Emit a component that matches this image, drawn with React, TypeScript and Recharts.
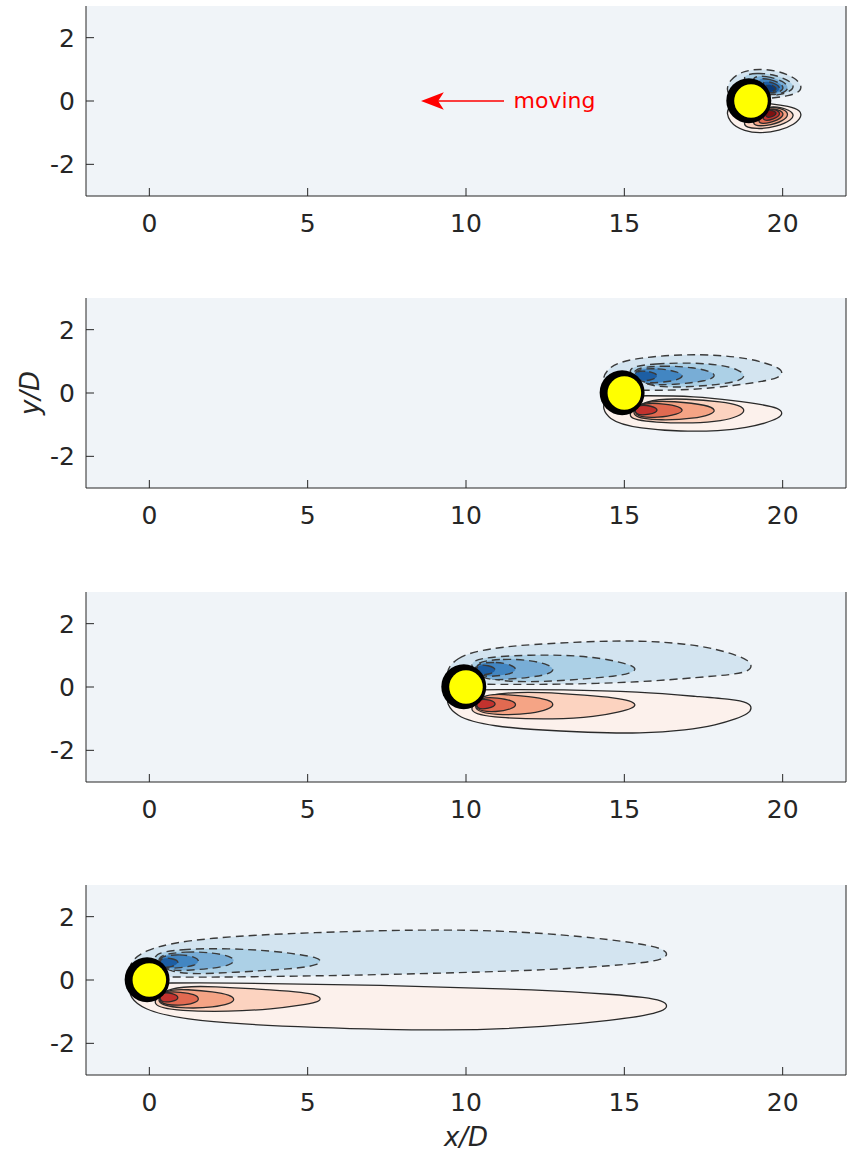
import React from 'react';
import { ComposedChart, XAxis, YAxis, Scatter, CartesianGrid } from 'recharts';

const W = 849;
const MT = 6;
const PLOT_H = 190;
const CHART_H = 272;
const PLOT_W = 760;
const PX_PER_D = PLOT_W / 24;
const FONT = '"DejaVu Sans", sans-serif';
const INK = '#262626';

// top edge of each plot box, in page pixels
const plotTops = [6, 298, 592, 885];
// cylinder centre x/D for each snapshot
const cylinderX = [19, 15, 10, 0];
const xTicks = [0, 5, 10, 15, 20];
const yTicks = [-2, 0, 2];

// contour fills, outermost level first
const blueFill = ['#d3e4f0', '#acd0e6', '#78add6', '#4286c2', '#1d5ea3', '#0c3b78'];
const redFill = ['#fcf1ec', '#fcd3c0', '#f5a485', '#e16a51', '#c2322e', '#7d1212'];

// upper (negative) wake lobe outlines, [dx from cylinder, y]; lower lobe is its mirror
const wake1 = [
  [[-0.85, 0.1], [-0.7, 0.7], [-0.2, 0.96], [0.3, 1.02], [0.9, 0.94], [1.38, 0.74], [1.6, 0.5], [1.57, 0.3], [1.2, 0.16], [0.6, 0.08], [0.2, 0.06]],
  [[-0.45, 0.78], [0.2, 0.9], [0.8, 0.82], [1.3, 0.6], [1.38, 0.38], [1.0, 0.2], [0.4, 0.14]],
  [[-0.1, 0.78], [0.5, 0.8], [1.04, 0.63], [1.22, 0.4], [0.98, 0.22], [0.4, 0.16]],
  [[0.1, 0.74], [0.62, 0.7], [1.05, 0.5], [1.0, 0.29], [0.5, 0.2]],
  [[0.3, 0.66], [0.74, 0.58], [0.96, 0.41], [0.8, 0.26], [0.45, 0.23]],
  [[0.45, 0.56], [0.74, 0.48], [0.83, 0.36], [0.64, 0.28], [0.45, 0.28]],
];
const wake2 = [
  [[-0.85, 0.1], [-0.55, 0.9], [0.5, 1.12], [1.8, 1.22], [3, 1.2], [3.9, 1.09], [4.45, 0.95], [4.87, 0.8], [5.02, 0.64], [4.87, 0.48], [4.4, 0.37], [3.5, 0.24], [2.2, 0.1], [0.8, 0.08]],
  [[-0.1, 0.82], [1, 0.93], [2.2, 0.96], [3.1, 0.88], [3.6, 0.74], [3.84, 0.56], [3.66, 0.39], [3.1, 0.28], [2, 0.18], [0.6, 0.18]],
  [[0.1, 0.78], [1.2, 0.87], [2.2, 0.81], [2.76, 0.67], [2.9, 0.54], [2.64, 0.38], [1.6, 0.26], [0.5, 0.24]],
  [[0.2, 0.75], [1.1, 0.79], [1.7, 0.67], [1.9, 0.54], [1.64, 0.39], [1.1, 0.33], [0.5, 0.3]],
  [[0.3, 0.71], [0.82, 0.69], [1.12, 0.55], [0.88, 0.4], [0.35, 0.36]],
];
const wake3 = [
  [[-0.85, 0.1], [-0.4, 1.0], [1.0, 1.25], [2, 1.34], [3.9, 1.44], [5.5, 1.47], [7, 1.36], [7.9, 1.2], [8.55, 1.0], [8.92, 0.84], [9.04, 0.66], [8.92, 0.49], [8.4, 0.39], [7.4, 0.31], [5.5, 0.15], [3, 0.08], [1, 0.08]],
  [[-0.1, 0.82], [1, 0.98], [2.8, 1.03], [4.1, 0.94], [4.85, 0.79], [5.26, 0.67], [5.38, 0.56], [5.2, 0.43], [4.7, 0.34], [3.8, 0.26], [2.5, 0.16], [0.6, 0.16]],
  [[0.1, 0.78], [1.2, 0.9], [2.1, 0.84], [2.62, 0.7], [2.8, 0.55], [2.62, 0.4], [2.0, 0.3], [1.2, 0.23], [0.5, 0.22]],
  [[0.2, 0.75], [1, 0.8], [1.45, 0.69], [1.62, 0.56], [1.45, 0.42], [1.0, 0.35], [0.45, 0.3]],
  [[0.3, 0.71], [0.72, 0.69], [1.0, 0.55], [0.78, 0.4], [0.35, 0.36]],
];
const wake4 = [
  [[-0.85, 0.1], [-0.4, 1.0], [1.9, 1.35], [5, 1.5], [9.5, 1.62], [12.6, 1.48], [14.7, 1.26], [15.65, 1.12], [16.2, 0.99], [16.4, 0.82], [16.2, 0.65], [15.65, 0.55], [14.7, 0.46], [12.6, 0.31], [7.3, 0.16], [2, 0.08], [0.5, 0.1]],
  [[-0.1, 0.82], [1, 0.98], [2.5, 1.0], [3.9, 0.92], [4.85, 0.79], [5.3, 0.7], [5.44, 0.6], [5.3, 0.48], [4.85, 0.39], [4, 0.32], [2, 0.2], [0.6, 0.18]],
  [[0.1, 0.78], [1.2, 0.91], [2.04, 0.86], [2.55, 0.75], [2.72, 0.62], [2.55, 0.47], [2.04, 0.37], [1.2, 0.3], [0.5, 0.28]],
  [[0.2, 0.75], [1, 0.82], [1.44, 0.73], [1.6, 0.6], [1.44, 0.45], [1.0, 0.39], [0.45, 0.34]],
  [[0.3, 0.71], [0.74, 0.69], [0.98, 0.56], [0.74, 0.41], [0.35, 0.38]],
];
const wakes = [wake1, wake2, wake3, wake4];

// arrow in first panel
const arrowShaft = [{ x: 11.2, y: 0 }, { x: 9.1, y: 0 }];
const arrowHead = [{ x: 8.58, y: 0 }, { x: 9.3, y: 0.28 }, { x: 9.12, y: 0 }, { x: 9.3, y: -0.28 }, { x: 8.58, y: 0 }];
const movingLabel = [{ x: 11.5, y: 0, text: 'moving' }];

const noDot = () => <g />;

function outline(level: number[][], xc: number, sign: number) {
  return level.map(([dx, y]) => ({ x: xc + dx, y: sign * y }));
}

function Panel({ idx }: { idx: number }) {
  const xc = cylinderX[idx];
  const levels = wakes[idx];
  const last = idx === 3;
  const tickStyle = { fill: INK, fontSize: 25, fontFamily: FONT };
  const axisStroke = { stroke: INK, strokeWidth: 1 };

  return (
    <div style={{ position: 'absolute', left: 0, top: plotTops[idx] - MT }}>
      <ComposedChart width={W} height={CHART_H} margin={{ top: MT, right: 0, bottom: 0, left: 0 }}>
        <CartesianGrid fill="#f0f4f8" horizontal={false} vertical={false} />
        <XAxis
          type="number"
          dataKey="x"
          domain={[-2, 22]}
          ticks={xTicks}
          interval={0}
          allowDataOverflow
          height={CHART_H - MT - PLOT_H}
          tickSize={-8}
          tickMargin={26}
          axisLine={axisStroke}
          tickLine={axisStroke}
          tick={tickStyle}
          label={
            last
              ? {
                  value: 'x/D',
                  content: () => (
                    <text x={86 + PLOT_W / 2} y={258} dy="0.35em" textAnchor="middle" fontSize={26} fontStyle="italic" fontFamily={FONT} fill={INK}>
                      x/D
                    </text>
                  ),
                }
              : undefined
          }
        />
        <XAxis xAxisId="top" orientation="top" type="number" domain={[-2, 22]} ticks={xTicks} interval={0} allowDataOverflow height={0} tickSize={-8} tick={false} axisLine={axisStroke} tickLine={axisStroke} />
        <YAxis
          type="number"
          dataKey="y"
          domain={[-3, 3]}
          ticks={yTicks}
          interval={0}
          allowDataOverflow
          width={86}
          tickSize={-8}
          tickMargin={19}
          axisLine={axisStroke}
          tickLine={axisStroke}
          tick={tickStyle}
          label={
            idx === 1
              ? {
                  value: 'y/D',
                  content: () => (
                    <text x={30} y={MT + PLOT_H / 2} dy="0.35em" textAnchor="middle" fontSize={26} fontStyle="italic" fontFamily={FONT} fill={INK} transform={`rotate(-90 30 ${MT + PLOT_H / 2})`}>
                      y/D
                    </text>
                  ),
                }
              : undefined
          }
        />
        <YAxis yAxisId="right" orientation="right" type="number" domain={[-3, 3]} ticks={yTicks} interval={0} allowDataOverflow width={3} tickSize={-8} tick={false} axisLine={axisStroke} tickLine={axisStroke} />

        {levels.map((lv, i) => (
          <Scatter
            key={`b${i}`}
            data={outline(lv, xc, 1)}
            line={{ fill: blueFill[i], stroke: '#3a3a3a', strokeWidth: 1.4, strokeDasharray: '8 5' }}
            lineJointType="basisClosed"
            shape={noDot}
            isAnimationActive={false}
          />
        ))}
        {levels.map((lv, i) => (
          <Scatter
            key={`r${i}`}
            data={outline(lv, xc, -1)}
            line={{ fill: redFill[i], stroke: '#2a2a2a', strokeWidth: 1.3 }}
            lineJointType="basisClosed"
            shape={noDot}
            isAnimationActive={false}
          />
        ))}

        <Scatter
          data={[{ x: xc - 0.07, y: 0.01 }]}
          shape={(p: any) => <circle cx={p.cx} cy={p.cy} r={0.71 * PX_PER_D} fill="#000000" />}
          isAnimationActive={false}
        />
        <Scatter
          data={[{ x: xc, y: 0 }]}
          shape={(p: any) => <circle cx={p.cx} cy={p.cy} r={0.53 * PX_PER_D} fill="#ffff00" />}
          isAnimationActive={false}
        />

        {idx === 0 && (
          <Scatter data={arrowShaft} line={{ stroke: '#ff0000', strokeWidth: 1.5 }} shape={noDot} isAnimationActive={false} />
        )}
        {idx === 0 && (
          <Scatter data={arrowHead} line={{ stroke: 'none', fill: '#ff0000' }} lineJointType="linear" shape={noDot} isAnimationActive={false} />
        )}
        {idx === 0 && (
          <Scatter
            data={movingLabel}
            shape={(p: any) => (
              <text x={p.cx} y={p.cy} dy="0.3em" fontSize={22} fontFamily={FONT} fill="#ff0000">
                {p.payload.text}
              </text>
            )}
            isAnimationActive={false}
          />
        )}
      </ComposedChart>
    </div>
  );
}

export default function App() {
  return (
    <div style={{ position: 'absolute', left: 0, top: 0, width: W, height: 1158, background: '#ffffff' }}>
      {[0, 1, 2, 3].map((i) => (
        <Panel key={i} idx={i} />
      ))}
    </div>
  );
}
